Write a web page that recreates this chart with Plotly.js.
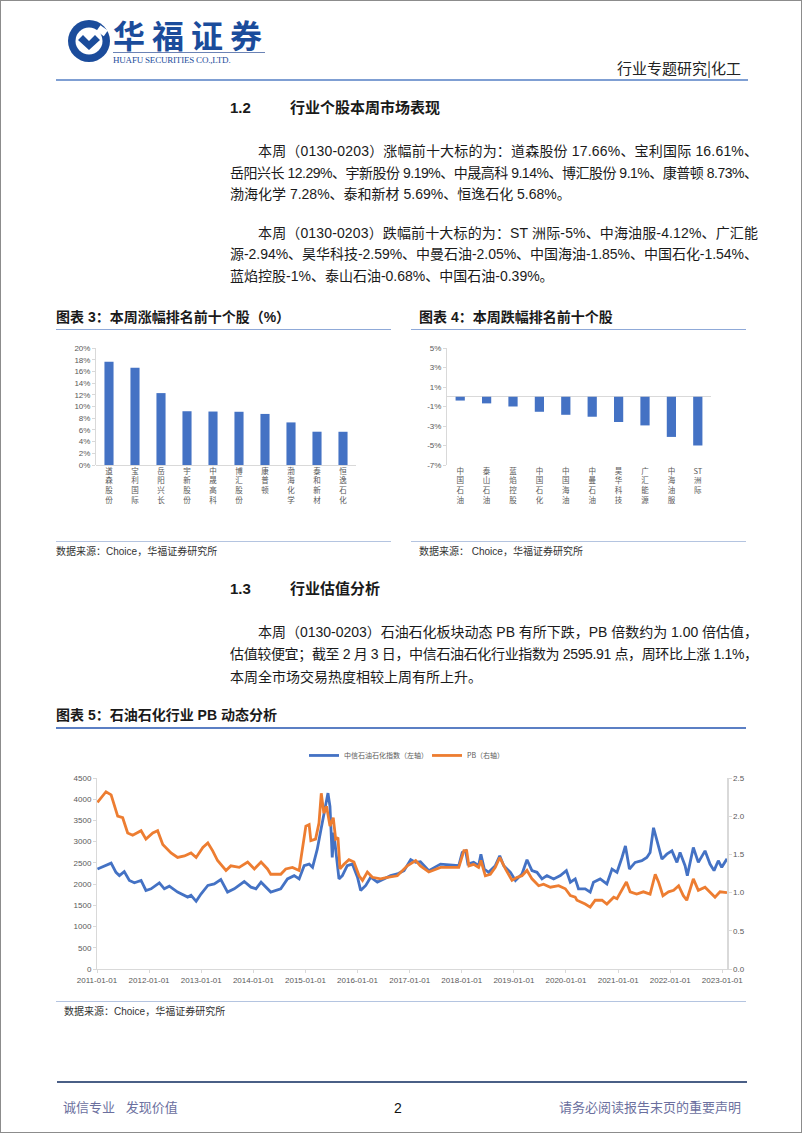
<!DOCTYPE html>
<html>
<head>
<meta charset="utf-8">
<script src="https://cdn.plot.ly/plotly-3.0.1.min.js"></script>
<style>
  body { margin: 0; background: #fff; }
  #page {
    position: relative; width: 802px; height: 1133px; box-sizing: border-box;
    border: 1px solid #8c8c8c; overflow: hidden;
    font-family: "Liberation Sans", "Noto Sans CJK SC", sans-serif; color: #1a1a1a;
  }
  .abs { position: absolute; white-space: nowrap; }
  .ln {
    position: absolute; left: 229px; height: 22px; line-height: 22px;
    font-size: 14px; white-space: nowrap;
  }
  .ln.first { left: 257px; }
  .hd { font-size: 15px; font-weight: bold; height: 22px; line-height: 22px; }
  .ttl { font-size: 14px; font-weight: bold; height: 20px; line-height: 20px; }
  .src { font-size: 10px; color: #333; height: 14px; line-height: 14px; }
  .rule { position: absolute; height: 0; }
  .chart { position: absolute; }
</style>
</head>
<body>
<div id="page">

  <!-- header -->
  <svg class="abs" style="left:66px; top:18px" width="44" height="44" viewBox="0 0 44 44">
    <circle cx="22" cy="22" r="21" fill="#1b4c9b"/>
    <circle cx="22" cy="22" r="13.5" fill="#fff"/>
    <path d="M11 21 L22 31 L33 21 L28 16 L22 22 L16 16 Z" fill="#1b4c9b"/>
    <rect x="31" y="8" width="9" height="7" fill="#fff" transform="rotate(35 35 11)"/>
  </svg>
  <div class="abs" style="left:112px; top:17px; font-size:32px; line-height:32px; font-weight:bold; color:#1b4c9b; letter-spacing:7px; font-family:'Noto Sans CJK SC'">华福证券</div>
  <div class="rule" style="left:112px; top:51px; width:152px; border-top:1px solid #6b83b5"></div>
  <div class="abs" style="left:112px; top:54px; font-size:9px; line-height:10px; color:#1b4c9b; font-family:'Liberation Serif', serif; letter-spacing:-0.2px">HUAFU SECURITIES CO.,LTD.</div>
  <div class="abs" style="right:60px; top:57px; font-size:15px; line-height:20px; color:#222; font-family:'Noto Sans CJK SC'">行业专题研究|化工</div>
  <div class="rule" style="left:55px; top:78px; width:692px; border-top:2px solid #7f9fd3"></div>

  <!-- 1.2 -->
  <div class="abs hd" style="left:229px; top:96px">1.2</div>
  <div class="abs hd" style="left:289px; top:96px">行业个股本周市场表现</div>

  <div class="ln first" data-w="500" style="top:139px">本周（0130-0203）涨幅前十大标的为：道森股份 17.66%、宝利国际 16.61%、</div>
  <div class="ln" data-w="528" style="top:161px">岳阳兴长 12.29%、宇新股份 9.19%、中晟高科 9.14%、博汇股份 9.1%、康普顿 8.73%、</div>
  <div class="ln" style="top:182px">渤海化学 7.28%、泰和新材 5.69%、恒逸石化 5.68%。</div>

  <div class="ln first" data-w="500" style="top:221px">本周（0130-0203）跌幅前十大标的为：ST 洲际-5%、中海油服-4.12%、广汇能</div>
  <div class="ln" data-w="528" style="top:242px">源-2.94%、昊华科技-2.59%、中曼石油-2.05%、中国海油-1.85%、中国石化-1.54%、</div>
  <div class="ln" style="top:264px">蓝焰控股-1%、泰山石油-0.68%、中国石油-0.39%。</div>

  <!-- charts 3 & 4 -->
  <div class="abs ttl" style="left:55px; top:306px">图表 3：本周涨幅排名前十个股（%）</div>
  <div class="rule" style="left:55px; top:328px; width:335px; border-top:1px solid #8fa9d8"></div>
  <div class="abs ttl" style="left:418px; top:306px">图表 4：本周跌幅排名前十个股</div>
  <div class="rule" style="left:410px; top:328px; width:335px; border-top:1px solid #8fa9d8"></div>

  <div id="chart-rise" class="chart" style="left:55px; top:330px; width:335px; height:210px"></div>
  <div id="chart-fall" class="chart" style="left:410px; top:330px; width:335px; height:210px"></div>

  <div class="rule" style="left:55px; top:540px; width:335px; border-top:1px solid #b4c4e0"></div>
  <div class="rule" style="left:410px; top:540px; width:335px; border-top:1px solid #b4c4e0"></div>
  <div class="abs src" style="left:55px; top:544px">数据来源：Choice，华福证券研究所</div>
  <div class="abs src" style="left:418px; top:544px">数据来源：&nbsp;Choice，华福证券研究所</div>

  <!-- 1.3 -->
  <div class="abs hd" style="left:229px; top:577px">1.3</div>
  <div class="abs hd" style="left:289px; top:577px">行业估值分析</div>

  <div class="ln first" data-w="500" style="top:620px">本周（0130-0203）石油石化板块动态 PB 有所下跌，PB 倍数约为 1.00 倍估值，</div>
  <div class="ln" data-w="528" style="top:642px">估值较便宜；截至 2 月 3 日，中信石油石化行业指数为 2595.91 点，周环比上涨 1.1%，</div>
  <div class="ln" style="top:665px">本周全市场交易热度相较上周有所上升。</div>

  <!-- chart 5 -->
  <div class="abs ttl" style="left:55px; top:704px">图表 5：石油石化行业 PB 动态分析</div>
  <div class="rule" style="left:55px; top:726px; width:690px; border-top:2px solid #5b7fc4"></div>
  <div id="chart-pb" class="chart" style="left:55px; top:728px; width:690px; height:272px"></div>
  <div class="rule" style="left:55px; top:1000px; width:690px; border-top:1px solid #b4c4e0"></div>
  <div class="abs src" style="left:63px; top:1004px">数据来源：Choice，华福证券研究所</div>

  <!-- footer -->
  <div class="rule" style="left:56px; top:1080px; width:690px; border-top:2px solid #4a5f86"></div>
  <div class="abs" style="left:62px; top:1098px; font-size:13px; line-height:18px; color:#6b6f9e">诚信专业&nbsp;&nbsp;&nbsp;发现价值</div>
  <div class="abs" style="left:393px; top:1098px; font-size:14px; line-height:18px; color:#111">2</div>
  <div class="abs" style="right:60px; top:1098px; font-size:13px; line-height:18px; color:#6b6f9e">请务必阅读报告末页的重要声明</div>
</div>

<script>
// ---- chart 3: top 10 gainers (%)
const riseNames  = ['道森股份', '宝利国际', '岳阳兴长', '宇新股份', '中晟高科', '博汇股份', '康普顿', '渤海化学', '泰和新材', '恒逸石化'];
const riseValues = [17.66, 16.61, 12.29, 9.19, 9.14, 9.1, 8.73, 7.28, 5.69, 5.68];

// ---- chart 4: top 10 losers (%)
const fallNames  = ['中国石油', '泰山石油', '蓝焰控股', '中国石化', '中国海油', '中曼石油', '昊华科技', '广汇能源', '中海油服', 'ST洲际'];
const fallValues = [-0.39, -0.68, -1, -1.54, -1.85, -2.05, -2.59, -2.94, -4.12, -5];
const fallTicks  = [-7, -5, -3, -1, 1, 3, 5];

// ---- chart 5: CITIC oil & petrochem index (left) and PB (right)
const indexName  = '中信石油石化指数（左轴）';
const indexDates = [
  '2011-01-04','2011-02-01','2011-04-10','2011-05-14','2011-06-07','2011-07-11','2011-08-16','2011-09-20',
  '2011-11-06','2011-12-10','2012-01-15','2012-03-13','2012-04-17','2012-05-22','2012-07-19','2012-09-28',
  '2012-10-21','2012-11-26','2012-12-31','2013-02-16','2013-04-02','2013-05-18','2013-07-04','2013-08-20',
  '2013-10-29','2013-12-15','2014-01-19','2014-02-24','2014-05-03','2014-07-12','2014-08-28','2014-10-14',
  '2014-11-18','2014-12-23','2015-01-27','2015-02-20','2015-03-25','2015-04-18','2015-05-15','2015-06-08',
  '2015-06-22','2015-07-08','2015-07-19','2015-08-01','2015-08-24','2015-09-17','2015-10-21','2015-11-26',
  '2016-01-01','2016-01-23','2016-02-28','2016-04-02','2016-05-19','2016-07-04','2016-08-20','2016-10-06',
  '2016-11-22','2017-01-08','2017-02-12','2017-03-17','2017-05-15','2017-08-05','2017-10-14','2017-12-11',
  '2018-01-04','2018-01-28','2018-02-13','2018-03-25','2018-04-29','2018-05-15','2018-06-08','2018-07-08',
  '2018-08-24','2018-09-24','2018-10-22','2018-12-08','2019-01-12','2019-02-27','2019-04-03','2019-05-08',
  '2019-06-12','2019-07-17','2019-08-21','2019-10-07','2019-11-23','2020-01-04','2020-02-01','2020-03-06',
  '2020-03-29','2020-05-15','2020-06-19','2020-07-12','2020-08-28','2020-10-14','2020-11-19','2020-12-24',
  '2021-01-28','2021-02-21','2021-03-21','2021-04-30','2021-06-16','2021-07-21','2021-08-13','2021-09-06',
  '2021-10-04','2021-11-04','2021-12-08','2022-01-13','2022-02-17','2022-03-11','2022-04-15','2022-05-01',
  '2022-06-12','2022-07-17','2022-09-02','2022-10-07','2022-11-04','2022-12-04','2022-12-28','2023-02-03'
];
const indexValues = [
  2355, 2395, 2495, 2278, 2200, 2295, 2085, 2030,
  2085, 1850, 1890, 2030, 1890, 1952, 1812, 1695,
  1735, 1595, 1772, 1968, 2005, 2108, 1812, 1890,
  2061, 1928, 1890, 2045, 1812, 1890, 2122, 2200,
  2122, 2435, 2472, 2395, 2822, 3251, 3755, 4144,
  3834, 2628, 3211, 2822, 2122, 2200, 2435, 2472,
  2162, 1852, 1968, 2162, 2045, 2122, 2200, 2239,
  2318, 2575, 2512, 2528, 2318, 2472, 2449, 2435,
  2745, 2784, 2472, 2512, 2435, 2705, 2355, 2278,
  2435, 2668, 2435, 2278, 2085, 2239, 2575, 2318,
  2278, 2122, 2200, 2122, 2200, 2318, 2045, 2122,
  1890, 1890, 1812, 2045, 2122, 2005, 2355, 2278,
  2628, 2900, 2355, 2512, 2551, 2628, 2745, 3328,
  2978, 2589, 2705, 2784, 2512, 2745, 2435, 2200,
  2861, 2512, 2784, 2472, 2318, 2551, 2395, 2596
];

const pbName  = 'PB（右轴）';
const pbDates = [
  '2011-01-04','2011-02-12','2011-03-05','2011-04-10','2011-05-02','2011-05-26','2011-06-30','2011-08-04',
  '2011-09-08','2011-11-06','2011-12-10','2012-01-27','2012-03-01','2012-04-06','2012-06-03','2012-07-19',
  '2012-09-05','2012-10-21','2012-11-26','2013-01-12','2013-02-16','2013-03-21','2013-04-25','2013-06-23',
  '2013-07-27','2013-09-24','2013-11-22','2014-01-08','2014-02-24','2014-04-10','2014-05-03','2014-07-12',
  '2014-08-16','2014-10-02','2014-11-18','2014-12-11','2015-01-04','2015-01-27','2015-02-08','2015-03-13',
  '2015-04-06','2015-04-22','2015-05-10','2015-05-29','2015-06-22','2015-07-15','2015-08-01','2015-08-17',
  '2015-08-31','2015-09-28','2015-11-02','2015-12-07','2016-01-12','2016-02-05','2016-03-10','2016-04-14',
  '2016-06-11','2016-07-28','2016-10-06','2016-12-15','2017-02-12','2017-03-17','2017-05-15','2017-08-05',
  '2017-10-14','2017-12-11','2018-01-16','2018-02-04','2018-02-20','2018-03-25','2018-04-29','2018-05-15',
  '2018-06-15','2018-07-20','2018-08-24','2018-09-24','2018-11-03','2018-12-19','2019-01-24','2019-02-27',
  '2019-04-03','2019-05-08','2019-06-24','2019-07-28','2019-09-14','2019-11-11','2019-12-28','2020-02-01',
  '2020-03-06','2020-03-18','2020-05-15','2020-06-19','2020-07-24','2020-09-10','2020-10-14','2020-12-01',
  '2020-12-24','2021-02-09','2021-02-28','2021-03-26','2021-05-11','2021-06-27','2021-08-13','2021-09-18',
  '2021-10-11','2021-11-11','2021-12-20','2022-01-25','2022-03-01','2022-04-03','2022-04-27','2022-06-12',
  '2022-07-17','2022-09-02','2022-10-19','2022-11-11','2022-12-16','2023-02-03'
];
const pbValues = [
  2.18, 2.28, 2.32, 2.28, 2.13, 2.00, 1.98, 1.78,
  1.75, 1.81, 1.70, 1.78, 1.81, 1.63, 1.52, 1.46,
  1.48, 1.52, 1.46, 1.59, 1.65, 1.55, 1.42, 1.29,
  1.35, 1.33, 1.40, 1.31, 1.40, 1.31, 1.24, 1.24,
  1.31, 1.33, 1.29, 1.57, 1.87, 1.89, 1.68, 1.70,
  1.91, 2.30, 2.04, 2.13, 1.87, 1.98, 1.70, 1.72,
  1.31, 1.37, 1.43, 1.40, 1.22, 1.16, 1.27, 1.20,
  1.18, 1.20, 1.22, 1.35, 1.42, 1.35, 1.27, 1.33,
  1.33, 1.33, 1.55, 1.55, 1.35, 1.37, 1.33, 1.42,
  1.22, 1.24, 1.33, 1.46, 1.31, 1.16, 1.20, 1.22,
  1.29, 1.18, 1.09, 1.11, 1.07, 1.09, 1.05, 0.96,
  0.94, 0.90, 0.85, 0.81, 0.90, 0.90, 0.85, 0.94,
  0.92, 1.07, 1.14, 1.01, 0.98, 1.01, 0.98, 1.24,
  1.14, 0.96, 1.01, 1.03, 1.09, 0.96, 0.90, 1.18,
  1.03, 1.07, 0.98, 0.94, 1.01, 1.00
];

const BLUE   = '#4472C4';
const ORANGE = '#ED7D31';
const AXIS   = '#d9d9d9';
const TICK_FONT = { family: 'Liberation Sans, Noto Sans CJK SC, sans-serif', size: 8, color: '#595959' };
const config = { staticPlot: true, displayModeBar: false };

// justify the full text lines to their column width without letting them wrap
function fitLines() {
  document.querySelectorAll('.ln[data-w]').forEach(el => {
    el.style.letterSpacing = '0px';
    const n = [...el.textContent].length;
    const w = el.getBoundingClientRect().width;
    el.style.letterSpacing = ((+el.dataset.w - w) / (n - 1)) + 'px';
  });
}
fitLines();
if (document.fonts) document.fonts.ready.then(fitLines);

// stack the characters of a name vertically, keeping "ST" together
function vertical(name) {
  return name.match(/[A-Za-z]+|./g).join('<br>');
}

function barLayout(names, yaxis, margin) {
  return {
    width: 335, height: 210,
    margin: margin,
    paper_bgcolor: '#fff', plot_bgcolor: '#fff',
    showlegend: false,
    bargap: 0.65,
    font: TICK_FONT,
    xaxis: {
      type: 'category',
      tickmode: 'array',
      tickvals: names,
      ticktext: names.map(vertical),
      tickfont: { family: 'Noto Sans CJK SC, sans-serif', size: 7.5, color: '#595959' },
      ticks: '', showgrid: false, zeroline: false,
      showline: false,
      fixedrange: true,
    },
    yaxis: Object.assign({
      showgrid: false,
      showline: true, linecolor: AXIS, linewidth: 1,
      ticks: 'outside', ticklen: 3, tickcolor: AXIS,
      tickfont: TICK_FONT,
      zeroline: true, zerolinecolor: AXIS, zerolinewidth: 1,
    }, yaxis),
  };
}

Plotly.newPlot('chart-rise', [{
  type: 'bar', x: riseNames, y: riseValues,
  marker: { color: BLUE, line: { width: 0 } },
}], barLayout(riseNames, { range: [0, 20], dtick: 2, ticksuffix: '%' },
  { t: 17, r: 35, b: 76, l: 40 }), config);

Plotly.newPlot('chart-fall', [{
  type: 'bar', x: fallNames, y: fallValues,
  marker: { color: BLUE, line: { width: 0 } },
}], barLayout(fallNames, {
  range: [-7, 5], tickmode: 'array',
  tickvals: fallTicks, ticktext: fallTicks.map(v => v + '%'),
}, { t: 17, r: 35, b: 76, l: 36 }), config);

Plotly.newPlot('chart-pb', [
  {
    type: 'scatter', mode: 'lines', name: indexName,
    x: indexDates, y: indexValues, yaxis: 'y',
    line: { color: BLUE, width: 2.8 },
  },
  {
    type: 'scatter', mode: 'lines', name: pbName,
    x: pbDates, y: pbValues, yaxis: 'y2',
    line: { color: ORANGE, width: 2.8 },
  },
], {
  width: 690, height: 272,
  margin: { t: 47, r: 19, b: 32, l: 41 },
  paper_bgcolor: '#fff', plot_bgcolor: '#fff',
  font: TICK_FONT,
  showlegend: true,
  legend: {
    orientation: 'h', x: 0.3286, xanchor: 'left', y: 1.118, yanchor: 'middle',
    entrywidth: 78, entrywidthmode: 'pixels',
    font: { family: 'Noto Sans CJK SC, sans-serif', size: 7, color: '#595959' },
    bgcolor: 'rgba(0,0,0,0)', borderwidth: 0,
  },
  xaxis: {
    type: 'date',
    range: ['2011-01-01', '2023-02-03'],
    tick0: '2011-01-01', dtick: 'M12',
    tickformat: '%Y-%m-%d',
    tickfont: { family: 'Liberation Sans Narrow, Liberation Sans, sans-serif', size: 8, color: '#595959' },
    showgrid: false, zeroline: false,
    showline: true, linecolor: AXIS, linewidth: 1,
    ticks: 'outside', ticklen: 3, tickcolor: AXIS,
  },
  yaxis: {
    range: [0, 4500], dtick: 500,
    showgrid: false, zeroline: false,
    showline: true, linecolor: AXIS, linewidth: 1,
    ticks: 'outside', ticklen: 3, tickcolor: AXIS,
    tickfont: TICK_FONT,
  },
  yaxis2: {
    overlaying: 'y', side: 'right',
    range: [0, 2.5], dtick: 0.5, tickformat: '.1f',
    showgrid: false, zeroline: false,
    showline: true, linecolor: AXIS, linewidth: 1.5,
    ticks: 'outside', ticklen: 3, tickcolor: AXIS,
    tickfont: TICK_FONT,
  },
}, config);
</script>
</body>
</html>
